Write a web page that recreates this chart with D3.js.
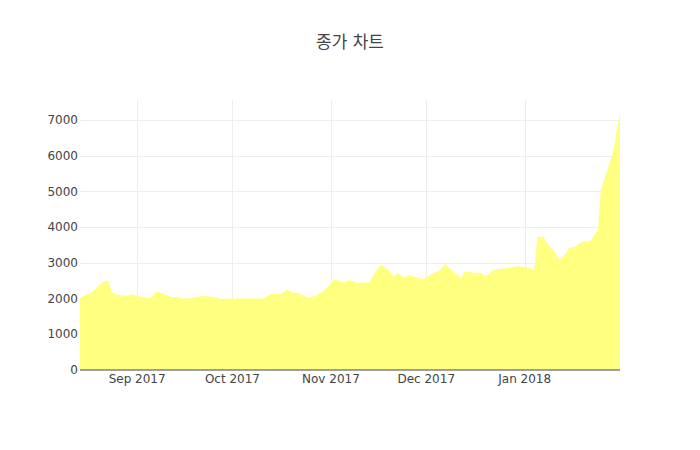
<!DOCTYPE html>
<html>
<head>
<meta charset="utf-8">
<script src="https://cdn.jsdelivr.net/npm/d3@7"></script>
<style>
  html, body { margin: 0; padding: 0; background: #fff; }
  svg { display: block; }
</style>
</head>
<body>
<div id="chart"></div>
<script>
const chartTitle = "종가 차트";
const dates = [
  "2017-08-14","2017-08-16","2017-08-18","2017-08-20","2017-08-22","2017-08-23","2017-08-24","2017-08-25",
  "2017-08-27","2017-08-29","2017-08-30","2017-09-01","2017-09-03","2017-09-05","2017-09-07","2017-09-08",
  "2017-09-10","2017-09-12","2017-09-14","2017-09-15","2017-09-18","2017-09-21","2017-09-24","2017-09-26",
  "2017-09-28","2017-09-29","2017-10-10","2017-10-11","2017-10-13","2017-10-16","2017-10-17","2017-10-18",
  "2017-10-20","2017-10-22","2017-10-24","2017-10-25","2017-10-27","2017-10-30","2017-10-31","2017-11-02",
  "2017-11-05","2017-11-07","2017-11-09","2017-11-13","2017-11-15","2017-11-17","2017-11-19","2017-11-21",
  "2017-11-22","2017-11-24","2017-11-26","2017-11-28","2017-11-30","2017-12-03","2017-12-05","2017-12-07",
  "2017-12-09","2017-12-10","2017-12-12","2017-12-13","2017-12-16","2017-12-18","2017-12-20","2017-12-22",
  "2017-12-27","2017-12-30","2018-01-03","2018-01-04","2018-01-05","2018-01-07","2018-01-08","2018-01-10",
  "2018-01-12","2018-01-14","2018-01-15","2018-01-17","2018-01-19","2018-01-21","2018-01-22","2018-01-24",
  "2018-01-25","2018-01-27","2018-01-29","2018-01-30","2018-01-31"
];
const closes = [
  2030,2110,2190,2380,2500,2470,2200,2120,
  2090,2080,2120,2080,2030,2010,2190,2180,
  2100,2040,2050,2000,2010,2070,2060,2030,
  1960,2000,2000,2010,2130,2130,2160,2260,
  2170,2150,2060,2030,2070,2240,2330,2540,
  2450,2520,2440,2450,2750,2960,2800,2610,
  2720,2590,2660,2590,2540,2700,2780,2970,
  2800,2720,2570,2750,2720,2720,2630,2800,
  2860,2910,2840,2800,3730,3730,3550,3360,
  3080,3270,3420,3450,3590,3590,3640,3920,
  5040,5600,6160,6720,7200
];
const yTicks = [0,1000,2000,3000,4000,5000,6000,7000];
const xTickDates = ["2017-09-01","2017-10-01","2017-11-01","2017-12-01","2018-01-01"];
const xTickLabels = ["Sep 2017","Oct 2017","Nov 2017","Dec 2017","Jan 2018"];

const W = 700, H = 450;
const m = {l: 80, r: 80, t: 100, b: 80};
const parse = d3.timeParse("%Y-%m-%d");
const data = dates.map((d, i) => ({date: parse(d), v: closes[i]}));
const FONT = "'DejaVu Sans', Verdana, 'Noto Sans CJK KR', sans-serif";

const svg = d3.select("#chart").append("svg").attr("width", W).attr("height", H)
  .style("font-family", FONT);

const x = d3.scaleTime().domain(d3.extent(data, d => d.date)).range([m.l, W - m.r]);
const yMax = d3.max(closes) * 1.05;
const y = d3.scaleLinear().domain([0, yMax]).range([H - m.b, m.t]);

// grid
const g = svg.append("g");
g.selectAll(".hg").data(yTicks.filter(t => t > 0)).enter().append("line")
  .attr("x1", m.l).attr("x2", W - m.r)
  .attr("y1", d => Math.round(y(d)) + 0.5).attr("y2", d => Math.round(y(d)) + 0.5)
  .attr("stroke", "#eee").attr("stroke-width", 1);
g.selectAll(".vg").data(xTickDates).enter().append("line")
  .attr("x1", d => Math.round(x(parse(d))) + 0.5).attr("x2", d => Math.round(x(parse(d))) + 0.5)
  .attr("y1", m.t).attr("y2", H - m.b)
  .attr("stroke", "#eee").attr("stroke-width", 1);

// area
const area = d3.area().x(d => x(d.date)).y0(y(0)).y1(d => y(d.v));
svg.append("path").datum(data).attr("d", area)
  .attr("fill", "rgb(255,255,128)").attr("stroke", "none");

// zero line
svg.append("line").attr("x1", m.l).attr("x2", W - m.r)
  .attr("y1", y(0)).attr("y2", y(0)).attr("stroke", "#444").attr("stroke-width", 1);

// y tick labels
svg.selectAll(".yt").data(yTicks).enter().append("text")
  .attr("x", m.l - 2).attr("y", d => y(d)).attr("dy", "0.35em")
  .attr("text-anchor", "end").attr("font-size", 12).attr("fill", "#444")
  .text(d => d3.format("d")(d));

// x tick labels
svg.selectAll(".xt").data(xTickDates).enter().append("text")
  .attr("x", d => x(parse(d))).attr("y", H - m.b + 13)
  .attr("text-anchor", "middle").attr("font-size", 12).attr("fill", "#444")
  .text((d, i) => xTickLabels[i]);

// title
svg.append("text").attr("x", W / 2).attr("y", 48)
  .attr("text-anchor", "middle").attr("font-size", 17).attr("fill", "#444")
  .text(chartTitle);
</script>
</body>
</html>
